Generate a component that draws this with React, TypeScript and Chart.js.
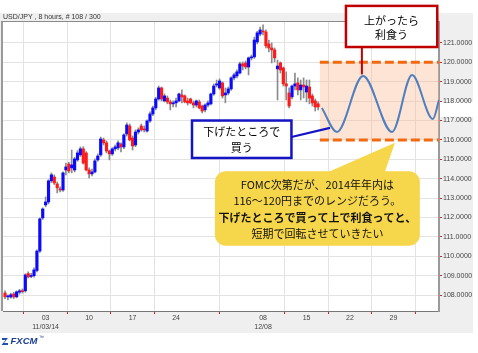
import { useEffect, useRef } from 'react';
import { Chart, registerables } from 'chart.js';
Chart.register(...registerables);

// 8-hour USD/JPY candles, index 0 = first bar (late Oct 2014)
const opens = [108.11,107.91,107.90,108.06,107.91,108.15,108.22,108.22,109.11,108.96,109.00,109.27,110.27,111.98,112.65,112.80,113.89,114.09,113.73,113.47,113.42,114.45,114.76,114.56,114.45,114.97,115.23,115.54,115.33,114.45,114.25,114.35,114.97,115.23,116.00,115.85,115.43,115.28,115.54,115.59,115.79,115.64,116.31,116.72,116.10,115.74,116.41,116.72,116.57,116.46,116.98,117.34,117.65,118.11,118.68,118.01,118.16,117.96,117.86,117.91,118.01,118.32,118.27,118.01,118.11,117.91,117.80,117.96,117.75,117.55,117.80,117.86,118.37,118.83,118.68,118.94,118.32,118.42,118.63,119.20,119.30,119.45,119.92,119.97,119.76,120.23,120.28,121.05,121.46,121.62,121.57,120.95,120.74,120.64,119.66,119.97,119.71,118.89,118.42,118.22,118.78,118.94,118.58,118.83,118.47,118.73,118.27,118.01,117.86];
const highs = [108.22,108.01,108.10,108.14,108.22,108.30,108.32,109.10,109.20,109.12,109.40,110.33,111.98,112.50,113.06,113.95,114.30,114.20,113.83,113.58,114.35,114.81,114.85,115.48,115.10,115.45,115.64,115.65,115.40,114.56,114.50,115.02,115.28,116.15,116.10,115.95,115.48,115.60,115.74,115.95,115.85,116.31,116.88,116.82,116.21,116.52,116.62,116.82,116.72,117.03,117.45,117.75,118.20,118.78,118.73,118.37,118.27,118.06,118.01,118.16,118.42,118.58,118.32,118.16,118.16,118.01,118.06,118.06,117.80,117.86,118.01,118.42,118.89,119.09,119.15,118.99,118.68,118.73,119.25,119.45,119.61,120.02,120.02,120.07,120.28,120.38,121.30,121.60,121.82,121.93,121.67,121.15,121.00,120.74,120.12,120.02,119.76,119.51,118.68,118.83,119.45,119.20,119.09,119.20,119.09,119.09,118.37,118.11,117.96];
const lows = [107.81,107.75,107.84,107.82,107.86,108.05,108.10,108.15,108.88,108.90,108.92,109.20,110.20,111.90,112.55,112.70,113.80,113.70,113.27,113.32,113.35,114.20,114.30,114.30,114.35,114.90,115.15,114.75,114.40,114.04,114.15,114.30,114.90,115.15,115.74,115.33,114.97,115.20,115.43,115.50,115.38,115.55,116.20,115.95,115.48,115.65,116.30,116.45,116.41,116.40,116.90,117.25,117.55,118.05,118.01,117.96,117.86,117.55,117.70,117.70,117.96,117.91,117.91,117.80,117.86,117.65,117.70,117.60,117.39,117.45,117.70,117.80,118.30,118.73,118.60,118.16,117.91,118.32,118.55,119.10,119.20,119.40,119.61,119.66,119.35,120.12,120.20,120.95,121.36,121.41,120.74,120.54,119.97,120.02,118.06,119.45,118.78,118.06,117.65,118.11,118.58,118.32,118.06,118.16,117.96,117.86,117.75,117.49,117.55];
const closes = [107.91,107.93,108.02,107.91,108.17,108.22,108.18,109.04,108.94,109.00,109.30,110.27,111.93,112.44,112.80,113.89,114.20,113.78,113.53,113.42,114.30,114.61,114.40,114.71,115.02,115.33,115.54,114.81,114.45,114.25,114.35,114.92,115.17,116.05,115.85,115.43,115.28,115.54,115.64,115.85,115.64,116.26,116.77,116.00,115.69,116.41,116.52,116.52,116.52,116.98,117.34,117.65,118.11,118.68,118.11,118.27,117.96,117.86,117.91,118.01,118.37,118.22,117.96,117.91,117.91,117.80,118.01,117.65,117.49,117.80,117.91,118.37,118.78,118.89,119.04,118.27,118.42,118.63,119.20,119.35,119.51,119.92,119.81,119.76,120.23,120.28,121.15,121.52,121.67,121.57,120.85,120.74,120.64,120.23,119.81,119.61,118.89,118.78,117.75,118.78,118.89,118.58,118.83,118.73,118.78,118.16,117.91,117.70,117.70];

// axis ticks
const xTickIdx = [14, 29, 44, 59, 89, 104, 119, 134];
const xTickDay = ['03', '10', '17', '24', '08', '15', '22', '29'];
const xTickMonth = ['11/03/14', '', '', '', '12/08', '', '', ''];
const yTicks = [108, 109, 110, 111, 112, 113, 114, 115, 116, 117, 118, 119, 120, 121];
const yTickLabels = ['108.0000', '109.0000', '110.0000', '111.0000', '112.0000', '113.0000', '114.0000', '115.0000', '116.0000', '117.0000', '118.0000', '119.0000', '120.0000', '121.0000'];

// expected range path (illustration)
const waveX = [109.3, 114.5, 123.5, 133.5, 140.4, 147.6, 149.7];
const waveY = [117.65, 116.41, 119.30, 116.41, 119.35, 117.08, 118.06];
const rangeHigh = 120;
const rangeLow = 116;
const rangeStart = 108.6;

const titleText = 'USD/JPY , 8 hours, # 108 / 300';
const redBoxLines = ['上がったら', '利食う'];
const blueBoxLines = ['下げたところで', '買う'];
const calloutLines = ['FOMC次第だが、2014年年内は', '116～120円までのレンジだろう。', '下げたところで買って上で利食ってと、', '短期で回転させていきたい'];

const JP = '"Noto Sans CJK JP", "Noto Sans", sans-serif';
const NUM = '"Liberation Sans", Arial, sans-serif';

const bgPlugin = {
  id: 'bgPlugin',
  beforeDraw(chart: any) {
    const { ctx, chartArea: a } = chart;
    const ys = chart.scales.y;
    ctx.save();
    ctx.fillStyle = '#ffffff';
    ctx.fillRect(0, 0, chart.width, chart.height);
    ctx.fillStyle = '#efefef';
    ctx.fillRect(0, a.top - 9, a.right + 34, a.bottom - a.top + 31);
    ctx.fillStyle = '#ffffff';
    ctx.fillRect(a.left, a.top, a.right - a.left, a.bottom - a.top);
    const t = ys.getPixelForValue(117.97);
    const b = ys.getPixelForValue(117.2);
    ctx.fillRect(a.right + 1, t, 33, b - t);
    ctx.fillStyle = '#333';
    ctx.font = '7px ' + NUM;
    ctx.textBaseline = 'middle';
    ctx.fillText(titleText, a.left, a.top - 4.5);
    ctx.restore();
  },
  beforeDatasetsDraw(chart: any) {
    const { ctx, chartArea: a } = chart;
    const xs = chart.scales.x, ys = chart.scales.y;
    const x0 = xs.getPixelForValue(rangeStart);
    const yT = ys.getPixelForValue(rangeHigh);
    const yB = ys.getPixelForValue(rangeLow);
    ctx.save();
    ctx.fillStyle = 'rgba(250,185,145,0.38)';
    ctx.fillRect(x0, yT, a.right - x0, yB - yT);
    ctx.strokeStyle = '#f26a10';
    ctx.lineWidth = 3;
    ctx.setLineDash([9, 4]);
    ctx.beginPath();
    ctx.moveTo(x0, yT); ctx.lineTo(a.right, yT);
    ctx.moveTo(x0, yB); ctx.lineTo(a.right, yB);
    ctx.stroke();
    ctx.restore();
  },
  afterDraw(chart: any) {
    const { ctx, chartArea: a } = chart;
    const xs = chart.scales.x, ys = chart.scales.y;
    const px = (v: number) => xs.getPixelForValue(v);
    const py = (v: number) => ys.getPixelForValue(v);
    ctx.save();
    // plot frame
    ctx.strokeStyle = '#9a9a9a';
    ctx.lineWidth = 2;
    ctx.beginPath(); ctx.moveTo(a.left - 1, a.top); ctx.lineTo(a.left - 1, a.bottom); ctx.stroke();
    ctx.lineWidth = 1;
    ctx.strokeStyle = '#8a8a8a';
    ctx.beginPath(); ctx.moveTo(a.left - 2, a.top - 0.5); ctx.lineTo(a.right, a.top - 0.5); ctx.stroke();

    // red box + connector
    const rx0 = px(117.6), rx1 = px(149.1), ry0 = py(122.91), ry1 = py(120.79);
    ctx.strokeStyle = '#c00000';
    ctx.lineWidth = 2;
    ctx.beginPath(); ctx.moveTo(px(123.1), ry1); ctx.lineTo(px(123.1), py(119.38)); ctx.stroke();
    ctx.fillStyle = '#ffffff';
    ctx.fillRect(rx0, ry0, rx1 - rx0, ry1 - ry0);
    ctx.lineWidth = 2.5;
    ctx.strokeRect(rx0, ry0, rx1 - rx0, ry1 - ry0);
    ctx.fillStyle = '#000';
    ctx.font = '11px ' + JP;
    ctx.textAlign = 'center';
    ctx.textBaseline = 'middle';
    const rcx = (rx0 + rx1) / 2, rcy = (ry0 + ry1) / 2 + 1.5;
    ctx.fillText(redBoxLines[0], rcx, rcy - 7);
    ctx.fillText(redBoxLines[1], rcx, rcy + 7);

    // blue box + connector
    const bx0 = px(64.5), bx1 = px(98.8), by0 = py(117.0), by1 = py(115.07);
    ctx.strokeStyle = '#1414c4';
    ctx.lineWidth = 2.2;
    ctx.beginPath(); ctx.moveTo(bx1, py(116.15)); ctx.lineTo(px(112.1), py(116.62)); ctx.stroke();
    ctx.fillStyle = '#ffffff';
    ctx.fillRect(bx0, by0, bx1 - bx0, by1 - by0);
    ctx.lineWidth = 2.5;
    ctx.strokeRect(bx0, by0, bx1 - bx0, by1 - by0);
    ctx.fillStyle = '#000';
    const bcx = (bx0 + bx1) / 2, bcy = (by0 + by1) / 2 + 0.8;
    ctx.fillText(blueBoxLines[0], bcx, bcy - 8);
    ctx.fillText(blueBoxLines[1], bcx, bcy + 8);

    // yellow callout
    const cx0 = px(72.4), cx1 = px(143.1), cy0 = py(114.38), cy1 = py(110.54), r = 11;
    ctx.fillStyle = '#f6d64a';
    ctx.beginPath();
    ctx.moveTo(cx0 + r, cy0);
    ctx.lineTo(px(112.1), cy0);
    ctx.lineTo(px(134.5), py(115.85));
    ctx.lineTo(px(131.1), cy0);
    ctx.lineTo(cx1 - r, cy0);
    ctx.arcTo(cx1, cy0, cx1, cy0 + r, r);
    ctx.lineTo(cx1, cy1 - r);
    ctx.arcTo(cx1, cy1, cx1 - r, cy1, r);
    ctx.lineTo(cx0 + r, cy1);
    ctx.arcTo(cx0, cy1, cx0, cy1 - r, r);
    ctx.lineTo(cx0, cy0 + r);
    ctx.arcTo(cx0, cy0, cx0 + r, cy0, r);
    ctx.closePath();
    ctx.fill();
    ctx.fillStyle = '#111';
    const ccx = (cx0 + cx1) / 2;
    const lineYs = [113.68, 112.86, 111.98, 111.15];
    calloutLines.forEach((s, k) => {
      ctx.font = (k === 2 ? 'bold ' : '') + '11px ' + JP;
      ctx.fillText(s, ccx, py(lineYs[k]));
    });

    // FXCM logo
    const lx = a.left - 1, ly = a.bottom + 30;
    ctx.fillStyle = '#1f4fb5';
    ctx.beginPath();
    ctx.moveTo(lx, ly - 3); ctx.lineTo(lx + 6, ly - 3); ctx.lineTo(lx + 2, ly + 2); ctx.lineTo(lx + 6, ly + 2);
    ctx.lineTo(lx + 6, ly + 4); ctx.lineTo(lx - 0.5, ly + 4); ctx.lineTo(lx + 3.5, ly - 1); ctx.lineTo(lx, ly - 1);
    ctx.closePath();
    ctx.fill();
    ctx.fillStyle = '#1c3f94';
    ctx.textAlign = 'left';
    ctx.font = 'bold italic 9.5px ' + NUM;
    ctx.fillText('FXCM', lx + 8.5, ly + 0.5);
    ctx.font = '5px ' + NUM;
    ctx.fillText('™', lx + 37, ly - 3);
    ctx.restore();
  },
};

export default function App() {
  const ref = useRef<HTMLCanvasElement>(null);
  useEffect(() => {
    if (!ref.current) return;
    const idx = opens.map((_, i) => i);
    const bodies = idx.map(i => ({ x: i, y: [opens[i], closes[i]] }));
    const wicks = idx.map(i => ({ x: i, y: [lows[i], highs[i]] }));
    const bodyColors = idx.map(i => (closes[i] >= opens[i] ? '#0a0aff' : '#ff1a1a'));
    const wave = waveX.map((x, k) => ({ x, y: waveY[k] }));
    const chart = new Chart(ref.current, {
      type: 'bar',
      data: {
        datasets: [
          { type: 'bar', label: 'body', data: bodies as any, backgroundColor: bodyColors, barThickness: 2.5, grouped: false, minBarLength: 1, order: 1 } as any,
          { type: 'bar', label: 'wick', data: wicks as any, backgroundColor: '#8a8a8a', barThickness: 1, grouped: false, order: 2 } as any,
          { type: 'line', label: 'path', data: wave as any, borderColor: '#4f7fbf', borderWidth: 2, pointRadius: 0, cubicInterpolationMode: 'monotone', order: 0 } as any,
        ],
      },
      options: {
        responsive: false,
        animation: false,
        devicePixelRatio: 1,
        layout: { padding: { left: 3, top: 22, right: 5, bottom: 20 } },
        plugins: { legend: { display: false }, tooltip: { enabled: false }, title: { display: false } },
        events: [],
        scales: {
          x: {
            type: 'linear',
            min: -0.7,
            max: 149.7,
            offset: false,
            afterBuildTicks: (s: any) => { s.ticks = xTickIdx.map(v => ({ value: v })); },
            afterFit: (s: any) => { s.height = 22; },
            ticks: {
              autoSkip: false,
              maxRotation: 0,
              padding: 0,
              color: '#444',
              font: { size: 7, family: NUM },
              callback: (v: any) => {
                const k = xTickIdx.indexOf(Number(v));
                if (k < 0) return '';
                return xTickMonth[k] ? [xTickDay[k], xTickMonth[k]] : xTickDay[k];
              },
            },
            grid: { color: '#e3e3e3', tickColor: '#e02020', tickLength: 3, lineWidth: 1 },
            border: { color: '#777', width: 1 },
          },
          y: {
            type: 'linear',
            position: 'right',
            min: 107.18,
            max: 122.08,
            afterBuildTicks: (s: any) => { s.ticks = yTicks.map(v => ({ value: v })); },
            afterFit: (s: any) => { s.width = 34; },
            ticks: {
              autoSkip: false,
              padding: 1,
              color: '#444',
              font: { size: 7, family: NUM },
              callback: (v: any) => yTickLabels[yTicks.indexOf(Number(v))] ?? '',
            },
            grid: { color: '#e3e3e3', tickColor: '#e02020', tickLength: 3, lineWidth: 1 },
            border: { color: '#9a9a9a', width: 2 },
          },
        },
      },
      plugins: [bgPlugin],
    });
    return () => chart.destroy();
  }, []);
  return (
    <div style={{ position: 'absolute', left: 0, top: 0, width: 478, height: 353, background: '#fff' }}>
      <canvas ref={ref} width={478} height={353} style={{ display: 'block' }} />
    </div>
  );
}
